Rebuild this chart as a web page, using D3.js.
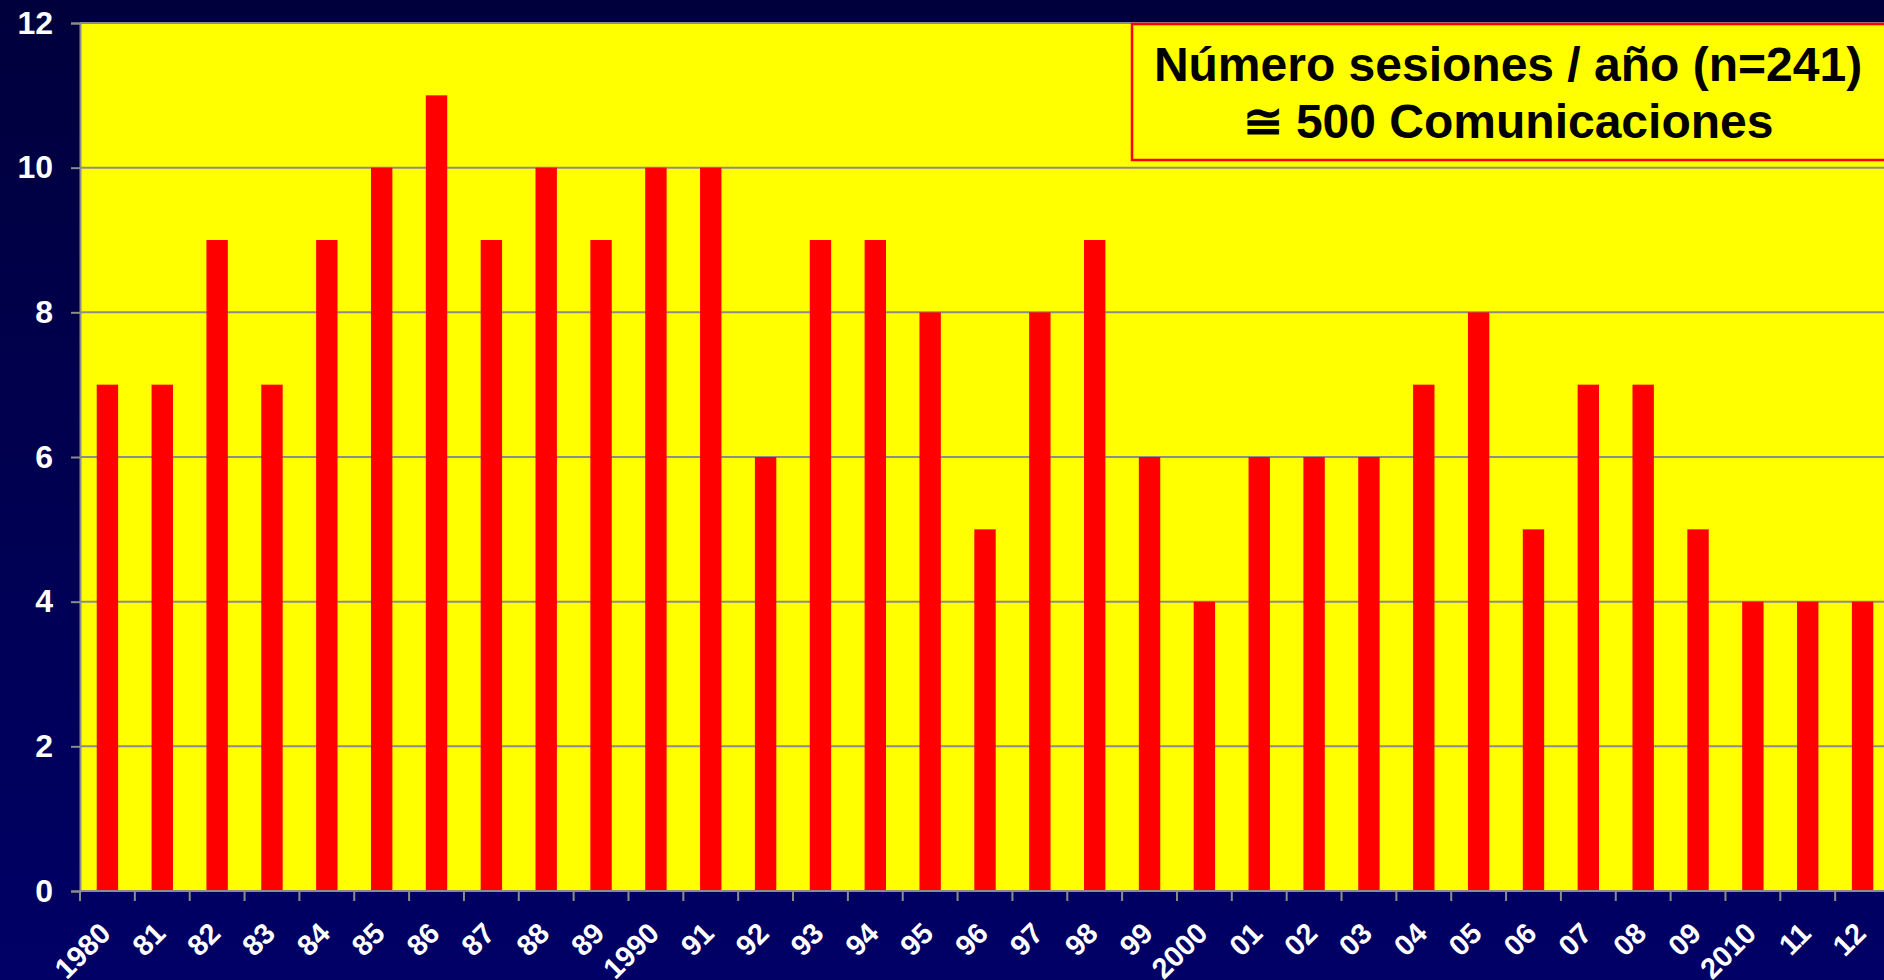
<!DOCTYPE html>
<html>
<head>
<meta charset="utf-8">
<script src="https://cdn.jsdelivr.net/npm/d3@7"></script>
<style>
  html, body { margin: 0; padding: 0; background: #000050; overflow: hidden; }
  svg { display: block; }
  text { font-family: "Liberation Sans", Arial, sans-serif; font-weight: bold; }
</style>
</head>
<body>
<svg id="chart" width="1884" height="980"></svg>
<script>
const years = ["1980","81","82","83","84","85","86","87","88","89","1990","91","92","93","94","95","96","97","98","99","2000","01","02","03","04","05","06","07","08","09","2010","11","12"];
const sessions = [7,7,9,7,9,10,11,9,10,9,10,10,6,9,9,8,5,8,9,6,4,6,6,6,7,8,5,7,7,5,4,4,4];
const yTicks = [0,2,4,6,8,10,12];
const titleLines = ["Número sesiones / año (n=241)", "≅ 500 Comunicaciones"];

(function(){
const W = 1884, H = 980;
const pLeft = 80, pTop = 23, pBottom = 891, pRight = 1890;

const svg = d3.select("#chart");
const defs = svg.append("defs");
const grad = defs.append("linearGradient").attr("id","bg").attr("x1",0).attr("y1",0).attr("x2",0).attr("y2",1);
grad.append("stop").attr("offset","0%").attr("stop-color","#00003c");
grad.append("stop").attr("offset","100%").attr("stop-color","#000066");
svg.append("rect").attr("width",W).attr("height",H).attr("fill","url(#bg)");

const x = d3.scaleBand().domain(years).range([pLeft, pRight]).paddingInner(0.61).paddingOuter(0.305);
const y = d3.scaleLinear().domain([0,12]).range([pBottom, pTop]);

// plot area
svg.append("rect").attr("x",pLeft).attr("y",pTop).attr("width",pRight-pLeft).attr("height",pBottom-pTop).attr("fill","#ffff00");

// gridlines
svg.append("g").selectAll("line").data(yTicks.filter(d=>d>0)).join("line")
  .attr("x1",pLeft).attr("x2",pRight).attr("y1",d=>y(d)).attr("y2",d=>y(d))
  .attr("stroke","#8c8c8c").attr("stroke-width",2);

// bars
svg.append("g").selectAll("rect").data(years).join("rect")
  .attr("x",d=>x(d)).attr("width",x.bandwidth())
  .attr("y",(d,i)=>y(sessions[i])).attr("height",(d,i)=>pBottom-y(sessions[i]))
  .attr("fill","#ff0000");

// y axis
const yAxis = svg.append("g").attr("transform",`translate(${pLeft},0)`)
  .call(d3.axisLeft(y).tickValues(yTicks).tickSize(9).tickPadding(18));
yAxis.select(".domain").attr("stroke","#8c8c8c").attr("stroke-width",2);
yAxis.selectAll(".tick line").attr("stroke","#8c8c8c").attr("stroke-width",2);
yAxis.selectAll(".tick text").attr("fill","#ffffff").attr("font-size",32)
  .attr("font-family","'Liberation Sans', Arial, sans-serif").attr("font-weight","bold");

// x axis
const xAxis = svg.append("g").attr("transform",`translate(0,${pBottom})`)
  .call(d3.axisBottom(x).tickSize(0).tickSizeOuter(0));
xAxis.select(".domain").remove();
svg.append("line").attr("x1",pLeft).attr("x2",pRight).attr("y1",pBottom).attr("y2",pBottom)
  .attr("stroke","#8c8c8c").attr("stroke-width",2);
const step = x.step();
const boundaries = years.map(d => x(d) - (step - x.bandwidth())/2);
svg.append("g").selectAll("line").data(boundaries).join("line")
  .attr("x1",d=>d).attr("x2",d=>d).attr("y1",pBottom).attr("y2",pBottom+10)
  .attr("stroke","#8c8c8c").attr("stroke-width",2);
xAxis.selectAll(".tick text")
  .attr("fill","#ffffff").attr("font-size",29)
  .attr("font-family","'Liberation Sans', Arial, sans-serif").attr("font-weight","bold")
  .attr("text-anchor","end").attr("dy",null).attr("y",null)
  .attr("transform", `translate(5, 44) rotate(-45)`);

// title box
svg.append("rect").attr("x",1132).attr("y",24).attr("width",800).attr("height",136)
  .attr("fill","#ffff00").attr("stroke","#ff0000").attr("stroke-width",2.5);
svg.append("g").selectAll("text").data(titleLines).join("text")
  .attr("x",1508).attr("y",(d,i)=>81 + i*57)
  .attr("text-anchor","middle").attr("font-size",48).attr("fill","#000000")
  .text(d=>d);
})();
</script>
</body>
</html>
